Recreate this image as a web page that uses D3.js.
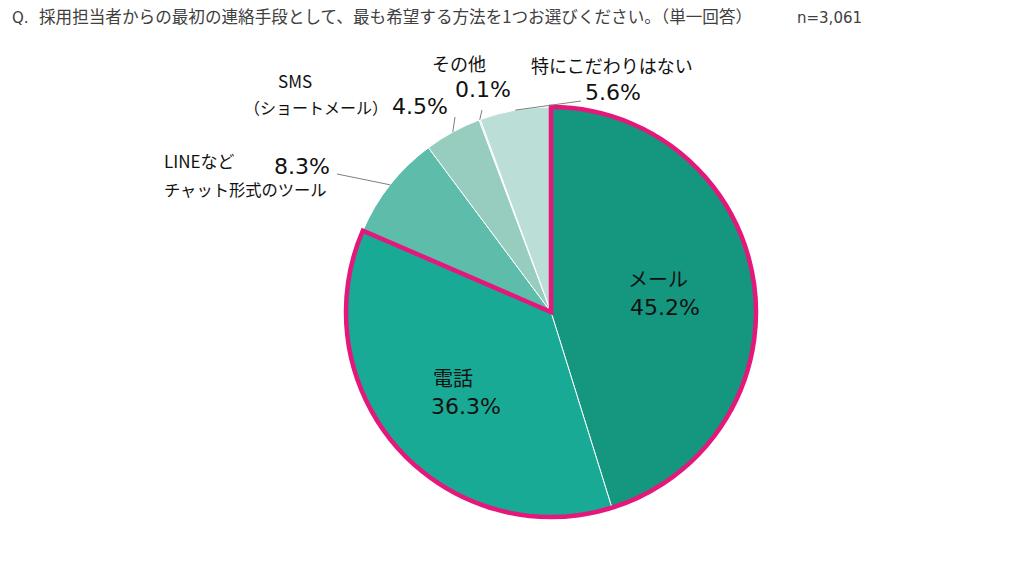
<!DOCTYPE html>
<html><head><meta charset="utf-8">
<script src="https://cdn.jsdelivr.net/npm/d3@7"></script>
<style>
html,body{margin:0;padding:0;background:#fff;}
svg{display:block;}
</style></head>
<body>
<svg id="chart" width="1024" height="563"></svg>
<script>
// ---- data ----
const categories = ["メール", "電話", "LINEなど チャット形式のツール", "SMS（ショートメール）", "その他", "特にこだわりはない"];
const values = [45.2, 36.3, 8.3, 4.5, 0.1, 5.6];
const valueLabels = ["45.2%", "36.3%", "8.3%", "4.5%", "0.1%", "5.6%"];
const colors = ["#14967f", "#19aa96", "#5dbcaa", "#96cdbf", "#a9d6cc", "#bbded6"];
const highlighted = [0, 1];
const titlePrefix = "Q.";
const title = "採用担当者からの最初の連絡手段として、最も希望する方法を1つお選びください。（単一回答）";
const sampleSize = "n=3,061";

// ---- layout ----
const W = 1024, H = 563;
const cx = 551, cy = 312, R = 205;
const jpFont = "'Noto Sans CJK JP', sans-serif";
const numFont = "'DejaVu Sans', 'Noto Sans CJK JP', sans-serif";

const svg = d3.select("#chart");

svg.append("text").attr("x", 12).attr("y", 23)
  .attr("font-family", numFont).attr("font-size", 15).attr("fill", "#404040")
  .text(titlePrefix);
svg.append("text").attr("x", 39).attr("y", 23)
  .attr("font-family", jpFont).attr("font-size", 16.6).attr("fill", "#404040")
  .text(title);
svg.append("text").attr("x", 797).attr("y", 23)
  .attr("font-family", numFont).attr("font-size", 15).attr("fill", "#404040")
  .text(sampleSize);

const pie = d3.pie().sort(null).value(d => d)(values);
const arc = d3.arc().innerRadius(0).outerRadius(R);
const g = svg.append("g").attr("transform", `translate(${cx},${cy})`);

g.selectAll("path.slice").data(pie).join("path")
  .attr("class", "slice")
  .attr("d", arc)
  .attr("fill", (d, i) => colors[i])
  .attr("stroke", "#ffffff").attr("stroke-width", 1);

// highlight outline around union of highlighted slices
const hStart = pie[highlighted[0]].startAngle;
const hEnd = pie[highlighted[highlighted.length - 1]].endAngle;
g.append("path")
  .attr("d", arc({startAngle: hStart, endAngle: hEnd}))
  .attr("fill", "none")
  .attr("stroke", "#e5177b").attr("stroke-width", 4.5)
  .attr("stroke-linejoin", "miter");

// inside labels
const inside = [
  {i: 0, name: "メール", nx: 628, ny: 287, px: 630, py: 315},
  {i: 1, name: "電話", nx: 433, ny: 386, px: 431, py: 414}
];
inside.forEach(l => {
  svg.append("text").attr("x", l.nx).attr("y", l.ny)
    .attr("font-family", jpFont).attr("font-size", 20).attr("fill", "#111")
    .text(l.name);
  svg.append("text").attr("x", l.px).attr("y", l.py)
    .attr("font-family", numFont).attr("font-size", 22).attr("fill", "#111")
    .text(valueLabels[l.i]);
});

// outside labels with leader lines
const edge = d3.arc().innerRadius(R).outerRadius(R);
const outside = [
  {i: 2, lines: [{t: "LINEなど", x: 164, y: 168, fs: 17}, {t: "チャット形式のツール", x: 164, y: 196, fs: 16.3}], px: 274, py: 174, lx: 337, ly: 174},
  {i: 3, lines: [{t: "SMS", x: 278, y: 88, fs: 17}, {t: "（ショートメール）", x: 388, y: 114, fs: 16, anchor: "end"}], px: 392, py: 114, lx: 455, ly: 117},
  {i: 4, lines: [{t: "その他", x: 432, y: 71, fs: 18}], px: 455, py: 97, lx: 482, ly: 110},
  {i: 5, lines: [{t: "特にこだわりはない", x: 531, y: 73, fs: 18}], px: 585, py: 100, lx: 581, ly: 101}
];
outside.forEach(l => {
  const c = edge.centroid(pie[l.i]);
  svg.append("line")
    .attr("x1", cx + c[0]).attr("y1", cy + c[1])
    .attr("x2", l.lx).attr("y2", l.ly)
    .attr("stroke", "#7f7f7f").attr("stroke-width", 1);
  l.lines.forEach(t => {
    svg.append("text").attr("x", t.x).attr("y", t.y)
      .attr("text-anchor", t.anchor || "start")
      .attr("font-family", jpFont).attr("font-size", t.fs).attr("fill", "#111")
      .text(t.t);
  });
  svg.append("text").attr("x", l.px).attr("y", l.py)
    .attr("font-family", numFont).attr("font-size", 22).attr("fill", "#111")
    .text(valueLabels[l.i]);
});
</script>
</body></html>
